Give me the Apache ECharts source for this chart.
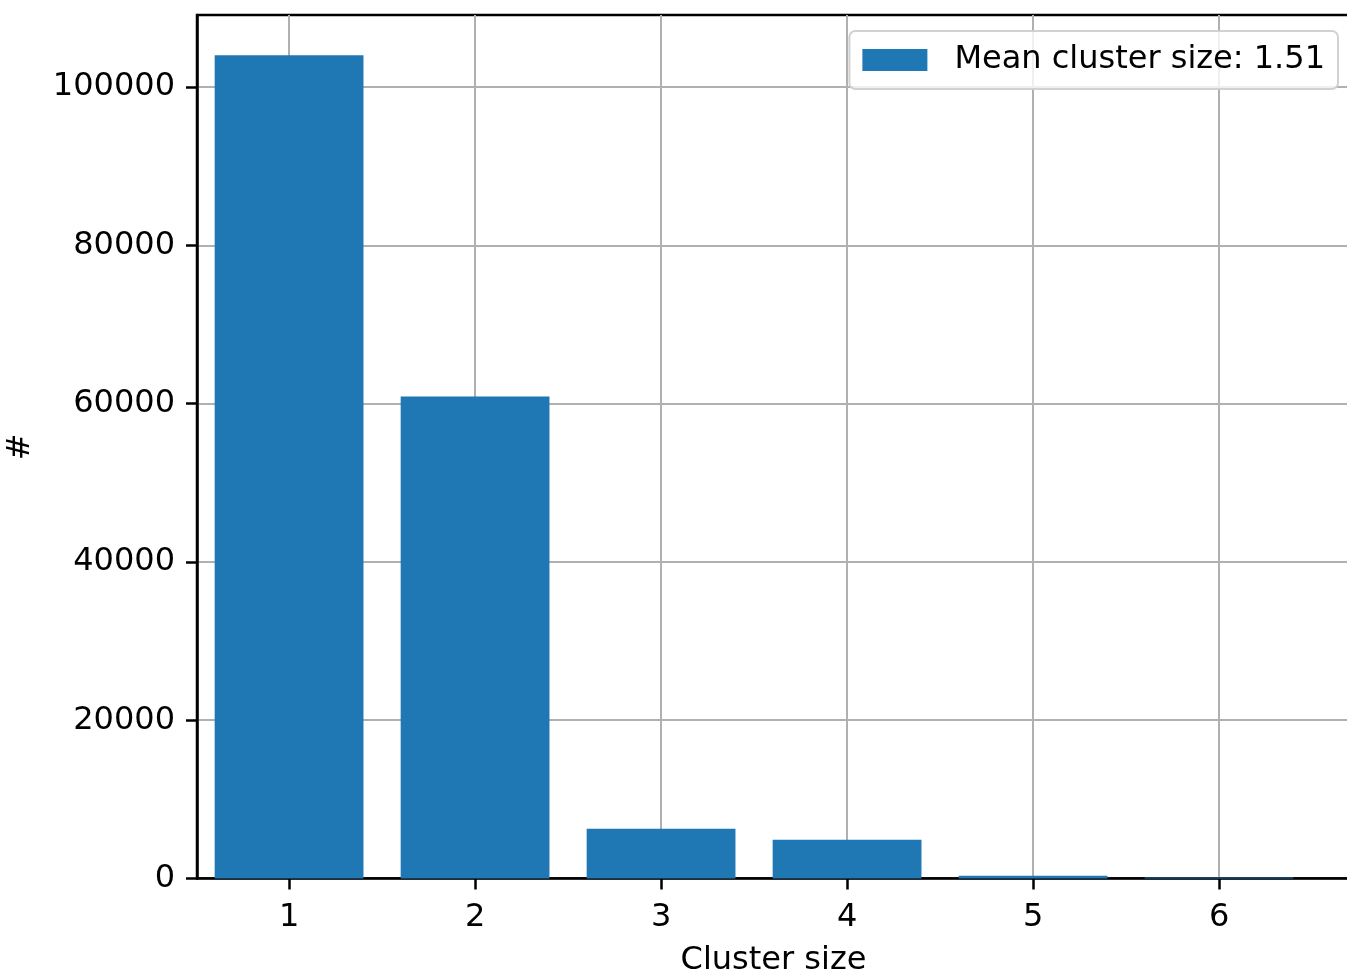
<!DOCTYPE html>
<html>
<head>
<meta charset="utf-8">
<title>Cluster size distribution</title>
<script src="https://cdn.jsdelivr.net/npm/echarts@6/dist/echarts.min.js"></script>
<style>
  html, body { margin: 0; padding: 0; background: #ffffff; }
  #chart { width: 1347px; height: 975px; }
</style>
</head>
<body>
<div id="chart"></div>
<script>
// Cluster sizes and how many clusters of each size were found
const clusterSizes = [1, 2, 3, 4, 5, 6];
const clusterCounts = [104000, 60900, 6280, 4880, 360, 120];
const yTicks = [0, 20000, 40000, 60000, 80000, 100000];
const legendLabel = 'Mean cluster size: 1.51';

const barColor = '#1f77b4';
const font = 'DejaVu Sans';
const fontSize = 32;
const barWidth = 0.8;

const chart = echarts.init(document.getElementById('chart'), null, { renderer: 'canvas' });

const seriesData = clusterSizes.map((s, i) => [s, clusterCounts[i]]);

chart.setOption({
  animation: false,
  backgroundColor: '#ffffff',
  grid: {
    left: 197,
    top: 15,
    width: 1153,
    height: 863.5,
    containLabel: false,
    outerBoundsMode: 'none',
    show: true,
    borderColor: '#000000',
    borderWidth: 2.5,
    backgroundColor: 'transparent'
  },
  legend: {
    data: [{ name: legendLabel, icon: 'rect' }],
    right: 9,
    top: 31,
    padding: [13, 13, 13, 13],
    itemWidth: 65,
    itemHeight: 22,
    itemGap: 0,
    backgroundColor: 'rgba(255,255,255,0.8)',
    borderColor: 'rgba(204,204,204,0.9)',
    borderWidth: 2,
    borderRadius: 6,
    textStyle: {
      fontFamily: font, fontSize: fontSize, color: '#000000',
      lineHeight: 31, padding: [0, 0, 0, 22]
    }
  },
  xAxis: {
    type: 'value',
    min: 0.505,
    max: 0.505 + 1153 / 186,
    interval: 1,
    name: 'Cluster size',
    nameLocation: 'middle',
    nameGap: 66,
    nameTextStyle: { fontFamily: font, fontSize: fontSize, color: '#000000' },
    axisLine: { show: true, onZero: false, lineStyle: { color: '#000000', width: 2.5 } },
    axisTick: { show: true, length: 11, lineStyle: { color: '#000000', width: 2.5 }, customValues: clusterSizes },
    axisLabel: {
      fontFamily: font, fontSize: fontSize, color: '#000000', margin: 23,
      customValues: clusterSizes,
      formatter: v => String(v)
    },
    splitLine: { show: true, lineStyle: { color: '#b0b0b0', width: 2 } }
  },
  yAxis: {
    type: 'value',
    min: 0,
    max: 863.5 / 158.3 * 20000,
    interval: 20000,
    name: '#',
    nameLocation: 'middle',
    nameGap: 160,
    nameRotate: 90,
    nameTextStyle: { fontFamily: font, fontSize: fontSize, color: '#000000' },
    axisLine: { show: true, lineStyle: { color: '#000000', width: 2.5 } },
    axisTick: { show: true, length: 11, lineStyle: { color: '#000000', width: 2.5 }, customValues: yTicks },
    axisLabel: {
      fontFamily: font, fontSize: fontSize, color: '#000000', margin: 22,
      padding: [5, 0, 0, 0],
      customValues: yTicks,
      formatter: v => String(v)
    },
    splitLine: { show: true, lineStyle: { color: '#b0b0b0', width: 2 } }
  },
  series: [{
    name: legendLabel,
    type: 'custom',
    itemStyle: { color: barColor },
    data: seriesData,
    encode: { x: 0, y: 1 },
    z: 5,
    renderItem: function (params, api) {
      const x = api.value(0);
      const y = api.value(1);
      const topLeft = api.coord([x - barWidth / 2, y]);
      const bottomRight = api.coord([x + barWidth / 2, 0]);
      return {
        type: 'rect',
        shape: {
          x: topLeft[0],
          y: topLeft[1],
          width: bottomRight[0] - topLeft[0],
          height: bottomRight[1] - topLeft[1]
        },
        style: { fill: barColor }
      };
    }
  }]
});
</script>
</body>
</html>
